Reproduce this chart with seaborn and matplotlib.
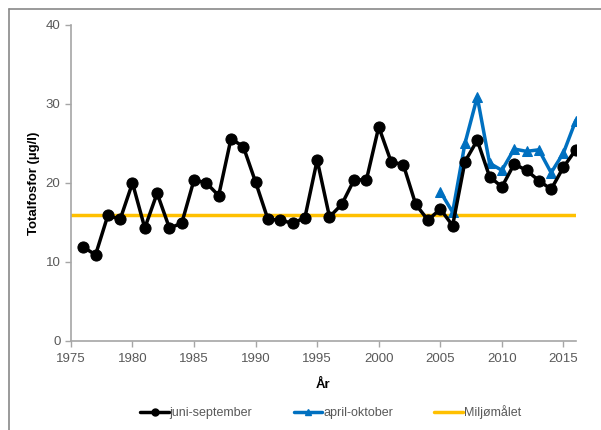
import pandas as pd
import matplotlib
matplotlib.use("Agg")
import matplotlib.pyplot as plt
import seaborn as sns
from matplotlib.lines import Line2D

# juni-september
aar_js = list(range(1976, 2017))
tp_js = [11.9, 10.9, 15.9, 15.4, 20.0, 14.3, 18.7, 14.3, 14.9, 20.4,
         20.0, 18.4, 25.6, 24.6, 20.1, 15.4, 15.3, 14.9, 15.6, 22.9,
         15.7, 17.3, 20.4, 20.4, 27.1, 22.7, 22.3, 17.3, 15.3, 16.7,
         14.6, 22.7, 25.4, 20.8, 19.5, 22.4, 21.6, 20.3, 19.2, 22.0, 24.2]

# april-oktober
aar_ao = list(range(2005, 2017))
tp_ao = [18.9, 16.3, 25.0, 30.9, 22.5, 21.6, 24.3, 24.0, 24.2, 21.3, 23.8, 27.9]

# Miljømålet
aar_mm = [1975, 2016]
tp_mm = [16, 16]

df_js = pd.DataFrame({"Aar": aar_js, "TP": tp_js})
df_ao = pd.DataFrame({"Aar": aar_ao, "TP": tp_ao})
df_mm = pd.DataFrame({"Aar": aar_mm, "TP": tp_mm})

sns.set_style("white")
plt.rcParams["font.family"] = ["Liberation Sans", "DejaVu Sans"]

fig = plt.figure(figsize=(6.01, 4.30), dpi=100)
ax = fig.add_axes([0.118, 0.207, 0.84, 0.735])

gul = "#FFC000"
blaa = "#0070C0"
tekst = "#595959"
grå = "#A6A6A6"

sns.lineplot(data=df_mm, x="Aar", y="TP", ax=ax, color=gul, linewidth=2.5)
sns.lineplot(data=df_ao, x="Aar", y="TP", ax=ax, color=blaa, linewidth=2.5,
             marker="^", markersize=7, markeredgecolor=blaa)
sns.lineplot(data=df_js, x="Aar", y="TP", ax=ax, color="black", linewidth=2.5,
             marker="o", markersize=8, markeredgecolor="black")

ax.set_xlim(1975, 2016)
ax.set_ylim(0, 40)
ax.set_xticks(range(1975, 2016, 5))
ax.set_yticks(range(0, 41, 10))
ax.tick_params(axis="both", direction="out", length=4, width=1, color=grå,
               labelcolor=tekst, labelsize=9.5, left=True, bottom=True)
ax.tick_params(axis="x", pad=5)
for s in ["top", "right"]:
    ax.spines[s].set_visible(False)
for s in ["left", "bottom"]:
    ax.spines[s].set_color(grå)
    ax.spines[s].set_linewidth(1.2)

ax.set_xlabel("År", fontsize=9.5, fontweight="bold", color="black", labelpad=10)
ax.set_ylabel("Totalfosfor (µg/l)", fontsize=9.5, fontweight="bold", color="black", labelpad=4)

handles = [
    Line2D([], [], color="black", linewidth=2.5, marker="o", markersize=5),
    Line2D([], [], color=blaa, linewidth=2.5, marker="^", markersize=5),
    Line2D([], [], color=gul, linewidth=2.5),
]
fig.legend(handles, ["juni-september", "april-oktober", "Miljømålet"],
           loc="center", bbox_to_anchor=(0.55, 0.042), ncol=3, frameon=False,
           fontsize=9, labelcolor=tekst, handlelength=2.3, handletextpad=0.05,
           columnspacing=3.3)

# ramme (bare topp og venstre synlig)
fig.add_artist(Line2D([0.015, 1.0], [0.979, 0.979], transform=fig.transFigure,
                      color="#898989", linewidth=1.2))
fig.add_artist(Line2D([0.015, 0.015], [0.0, 0.979], transform=fig.transFigure,
                      color="#898989", linewidth=1.2))

fig.savefig("out.png", dpi=100)
